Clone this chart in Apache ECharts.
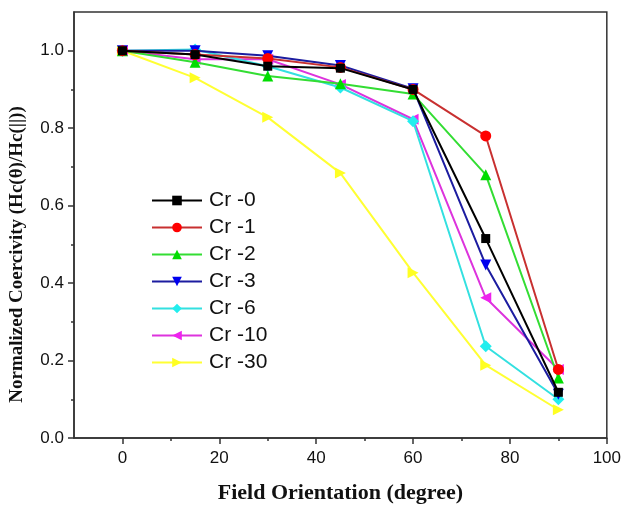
<!DOCTYPE html>
<html>
<head>
<meta charset="utf-8">
<script src="https://cdn.jsdelivr.net/npm/echarts@6/dist/echarts.min.js"></script>
<style>html,body{margin:0;padding:0;background:#fff}#c{width:624px;height:509px}</style>
</head>
<body>
<div id="c"></div>
<script>
var angles = [0, 15, 30, 45, 60, 75, 90];
var seriesNames = ['Cr -0', 'Cr -1', 'Cr -2', 'Cr -3', 'Cr -6', 'Cr -10', 'Cr -30'];
var cr0  = [1.0, 0.99, 0.96, 0.955, 0.90, 0.515, 0.118];
var cr1  = [1.0, 0.99, 0.98, 0.957, 0.90, 0.78, 0.177];
var cr2  = [1.0, 0.97, 0.935, 0.915, 0.888, 0.68, 0.155];
var cr3  = [1.0, 1.0, 0.987, 0.962, 0.902, 0.447, 0.113];
var cr6  = [1.0, 1.003, 0.96, 0.905, 0.818, 0.237, 0.10];
var cr10 = [1.0, 0.978, 0.978, 0.913, 0.823, 0.362, 0.177];
var cr30 = [1.0, 0.93, 0.828, 0.684, 0.427, 0.188, 0.073];
var xMajorTicks = [0, 20, 40, 60, 80, 100];
var xMinorTicks = [10, 30, 50, 70, 90];
var yMajorTicks = [0, 0.2, 0.4, 0.6, 0.8, 1.0];
var yMinorTicks = [0.1, 0.3, 0.5, 0.7, 0.9];
var xTitle = 'Field Orientation (degree)';
var yTitle = 'Normalized Coercivity (Hc(θ)/Hc(||))';

var allValues = [cr0, cr1, cr2, cr3, cr6, cr10, cr30];
var lineColors = ['#000000', '#c83030', '#33dd33', '#1c1ca0', '#33e0e0', '#dd33dd', '#ffff33'];
var markColors = ['#000000', '#ff0000', '#00dd00', '#0000ee', '#22eeee', '#ee22ee', '#ffff22'];
var symbols = ['rect', 'circle', 'triangle', 'triangle', 'diamond', 'triangle', 'triangle'];
var rotations = [0, 0, 0, 180, 0, 90, -90];
var sizes = [9, 11, 11, 11, 12, 11, 11];

var axisColor = '#333';
var series = seriesNames.map(function (name, i) {
  return {
    name: name,
    type: 'line',
    data: angles.map(function (a, j) { return [a, allValues[i][j]]; }),
    symbol: symbols[i],
    symbolRotate: rotations[i],
    symbolSize: sizes[i],
    showAllSymbol: true,
    lineStyle: { color: lineColors[i], width: 2 },
    itemStyle: { color: markColors[i] },
    emphasis: { disabled: true },
    z: 10 - i
  };
});

var chart = echarts.init(document.getElementById('c'), null, { renderer: 'canvas' });
chart.setOption({
  animation: false,
  grid: { left: 74, right: 17, top: 12, bottom: 70, show: true, borderColor: axisColor, borderWidth: 1.5, backgroundColor: 'transparent' },
  legend: {
    orient: 'vertical',
    left: 146, top: 185,
    itemWidth: 50, itemHeight: 12, itemGap: 6,
    data: seriesNames,
    textStyle: { fontFamily: 'Liberation Sans, Arial', fontSize: 21, color: '#111', padding: [0, 0, 0, 2] }
  },
  graphic: [{
    type: 'text',
    left: 8, top: 'middle',
    rotation: Math.PI / 2,
    style: { text: yTitle, fontFamily: 'Liberation Serif, Times New Roman', fontWeight: 'bold', fontSize: 19, fill: '#111' },
    x: 18, y: 250
  }],
  xAxis: [{
    type: 'value', min: -10, max: 100,
    name: xTitle, nameLocation: 'middle', nameGap: 44,
    nameTextStyle: { fontFamily: 'Liberation Serif, Times New Roman', fontWeight: 'bold', fontSize: 22, color: '#111' },
    axisLine: { show: true, onZero: false, lineStyle: { color: axisColor, width: 1.5 } },
    axisTick: { show: true, customValues: xMajorTicks, length: 6, lineStyle: { color: axisColor, width: 1.5 } },
    axisLabel: { customValues: xMajorTicks, fontFamily: 'Liberation Sans, Arial', fontSize: 17, color: '#111', margin: 12 },
    splitLine: { show: false }
  }, {
    type: 'value', min: -10, max: 100, position: 'bottom', gridIndex: 0,
    axisLine: { show: false, onZero: false },
    axisTick: { show: true, customValues: xMinorTicks, length: 3, lineStyle: { color: axisColor, width: 1.5 } },
    axisLabel: { show: false },
    splitLine: { show: false }
  }],
  yAxis: [{
    type: 'value', min: 0, max: 1.1,
    axisLine: { show: true, onZero: false, lineStyle: { color: axisColor, width: 1.5 } },
    axisTick: { show: true, customValues: yMajorTicks, length: 6, lineStyle: { color: axisColor, width: 1.5 } },
    axisLabel: { customValues: yMajorTicks, fontFamily: 'Liberation Sans, Arial', fontSize: 17, color: '#111', margin: 10,
      formatter: function (v) { return v.toFixed(1); } },
    splitLine: { show: false }
  }, {
    type: 'value', min: 0, max: 1.1, position: 'left',
    axisLine: { show: false, onZero: false },
    axisTick: { show: true, customValues: yMinorTicks, length: 3, lineStyle: { color: axisColor, width: 1.5 } },
    axisLabel: { show: false },
    splitLine: { show: false }
  }],
  series: series
});
</script>
</body>
</html>
